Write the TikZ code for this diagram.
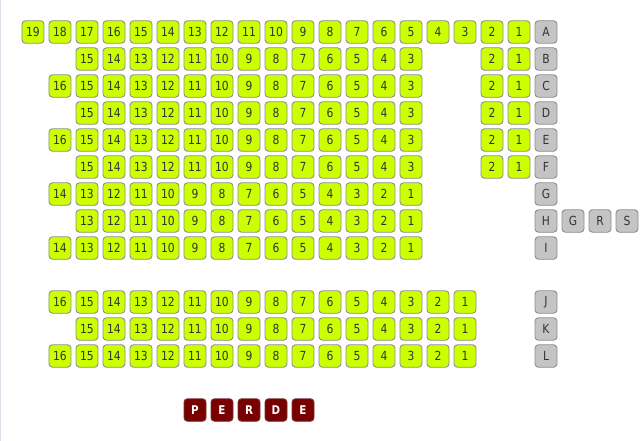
\documentclass[tikz,border=0pt]{standalone}
\usepackage{fontspec}
\setmainfont[FakeStretch=0.86]{DejaVu Sans}
\usepackage{xcolor}
\usepackage{tikz}
\definecolor{seatgreen}{HTML}{CCFF00}
\definecolor{seatedge}{HTML}{8E8E8E}
\definecolor{rowgray}{HTML}{C4C4C4}
\definecolor{stagered}{HTML}{780000}
\definecolor{seattext}{HTML}{333333}
\definecolor{pageedge}{HTML}{DCE2EA}

\tikzset{
  seat/.style={draw=seatedge, fill=seatgreen, rounded corners=3.5pt, line width=0.9pt,
    minimum width=22pt, minimum height=22.5pt, inner sep=0pt,
    text=seattext, font=\fontsize{12.5}{12.5}\selectfont},
  rowlbl/.style={seat, fill=rowgray},
  stage/.style={seat, fill=stagered, draw=stagered!60!gray, text=white,
    font=\bfseries\fontsize{12}{12}\selectfont},
}

\begin{document}
\begin{tikzpicture}[x=27pt, y=-27pt]
  \useasboundingbox (-1.2222,-1.1852) rectangle (22.5556,15.1481);
  \draw[pageedge, line width=1pt] (-1.2037,-1.1852) -- (-1.2037,15.1481);
  % row A
  \foreach \n in {1,...,19}
    \node[seat] (A\n) at ({19-\n},0) {\n};
  % rows B-F
  \foreach \r/\y/\top in {B/1/15, C/2/16, D/3/15, E/4/16, F/5/15} {
    \foreach \n in {3,...,\top}
      \node[seat] (\r\n) at ({17-\n},\y) {\n};
    \foreach \n in {1,2}
      \node[seat] (\r\n) at ({19-\n},\y) {\n};
  }
  % rows G-I
  \foreach \r/\y/\top in {G/6/14, H/7/13, I/8/14}
    \foreach \n in {1,...,\top}
      \node[seat] (\r\n) at ({15-\n},\y) {\n};
  % rows J-L
  \foreach \r/\y/\top in {J/10/16, K/11/15, L/12/16}
    \foreach \n in {1,...,\top}
      \node[seat] (\r\n) at ({17-\n},\y) {\n};
  % row letters
  \foreach \r/\y in {A/0, B/1, C/2, D/3, E/4, F/5, G/6, H/7, I/8, J/10, K/11, L/12}
    \node[rowlbl] (row\r) at (19,\y) {\r};
  \node[rowlbl] (extG) at (20,7) {G};
  \node[rowlbl] (extR) at (21,7) {R};
  \node[rowlbl] (extS) at (22,7) {S};
  % perde
  \foreach \c/\t in {6/P, 7/E, 8/R, 9/D, 10/E}
    \node[stage] (perde\c) at (\c,14) {\t};
\end{tikzpicture}
\end{document}
